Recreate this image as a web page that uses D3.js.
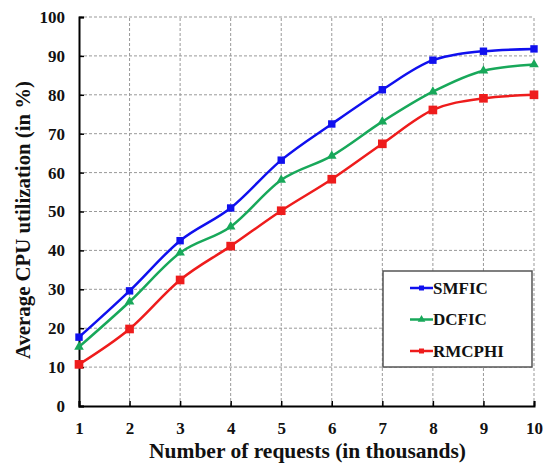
<!DOCTYPE html>
<html><head><meta charset="utf-8">
<script src="https://cdn.jsdelivr.net/npm/d3@7"></script>
<style>body{margin:0;background:#fff}svg{display:block}</style>
</head><body>
<script>
const xValues = [1,2,3,4,5,6,7,8,9,10];
const smfic  = [17.7,29.6,42.5,50.9,63.2,72.5,81.3,88.9,91.2,91.8];
const dcfic  = [15.2,26.8,39.4,46.1,58.1,64.3,73.1,80.8,86.2,87.8];
const rmcphi = [10.7,19.8,32.4,41.1,50.2,58.3,67.4,76.1,79.1,80.0];
const seriesNames = ["SMFIC","DCFIC","RMCPHI"];
const yTicks = [0,10,20,30,40,50,60,70,80,90,100];
const xLabel = "Number of requests (in thousands)";
const yLabel = "Average CPU utilization (in %)";

const W=543,H=465;
const m={l:79,r:9,t:17,b:59};
const svg=d3.select("body").append("svg").attr("width",W).attr("height",H);
const x=d3.scaleLinear().domain([1,10]).range([m.l,W-m.r]);
const y=d3.scaleLinear().domain([0,100]).range([H-m.b,m.t]);
const font="'Liberation Serif','Times New Roman',serif";

// grid
const g=svg.append("g");
g.selectAll(".hg").data(yTicks.filter(d=>d>0)).join("line")
 .attr("x1",m.l).attr("x2",x(10)).attr("y1",d=>y(d)).attr("y2",d=>y(d))
 .attr("stroke","#999").attr("stroke-dasharray","3,2").attr("stroke-width",1);
g.selectAll(".vg").data(xValues.filter(d=>d>1)).join("line")
 .attr("x1",d=>x(d)).attr("x2",d=>x(d)).attr("y1",y(0)).attr("y2",y(100))
 .attr("stroke","#999").attr("stroke-dasharray","3,2").attr("stroke-width",1);

// axes
const xa=svg.append("g").attr("transform",`translate(0,${y(0)})`)
 .call(d3.axisBottom(x).tickValues(xValues).tickSize(-5).tickPadding(14).tickFormat(d3.format("d")));
const ya=svg.append("g").attr("transform",`translate(${m.l},0)`)
 .call(d3.axisLeft(y).tickValues(yTicks).tickSize(-5).tickPadding(14));
[xa,ya].forEach(a=>{
 a.select(".domain").attr("stroke","#000").attr("stroke-width",2);
 a.selectAll(".tick line").attr("stroke","#000").attr("stroke-width",1.5);
 a.selectAll("text").attr("font-family",font).attr("font-weight","bold").attr("font-size",17).attr("fill","#111");
});
xa.selectAll(".tick text").attr("dy","0.85em");

// titles
svg.append("text").attr("x",(m.l+W-m.r)/2+1).attr("y",458).attr("text-anchor","middle")
 .attr("font-family",font).attr("font-weight","bold").attr("font-size",21.5).attr("fill","#111").text(xLabel);
svg.append("text").attr("transform",`translate(30,220) rotate(-90)`).attr("text-anchor","middle")
 .attr("textLength",278).attr("lengthAdjust","spacingAndGlyphs")
 .attr("font-family",font).attr("font-weight","bold").attr("font-size",22).attr("fill","#111").text(yLabel);

const series=[
 {name:seriesNames[0],vals:smfic,color:"#1010ee",sym:d3.symbolSquare,size:55},
 {name:seriesNames[1],vals:dcfic,color:"#18a85a",sym:d3.symbolTriangle,size:40},
 {name:seriesNames[2],vals:rmcphi,color:"#ee1c1c",sym:d3.symbolSquare,size:75}
];
const line=d3.line().x((d,i)=>x(xValues[i])).y(d=>y(d)).curve(d3.curveMonotoneX);
series.forEach(s=>{
 svg.append("path").datum(s.vals).attr("d",line).attr("fill","none").attr("stroke",s.color).attr("stroke-width",2.5);
 svg.selectAll(null).data(s.vals).join("path")
  .attr("transform",(d,i)=>`translate(${x(xValues[i])},${y(d)})`)
  .attr("d",d3.symbol().type(s.sym).size(s.size)).attr("fill",s.color);
});

// legend
const lg=svg.append("g");
lg.append("rect").attr("x",383).attr("y",271).attr("width",149).attr("height",96)
 .attr("fill","#fff").attr("stroke","#555").attr("stroke-width",1.5);
series.forEach((s,i)=>{
 const yy=288+i*31.5;
 lg.append("line").attr("x1",410).attr("x2",433).attr("y1",yy).attr("y2",yy).attr("stroke",s.color).attr("stroke-width",2.5);
 lg.append("path").attr("transform",`translate(421.5,${yy})`).attr("d",d3.symbol().type(s.sym).size(25)).attr("fill",s.color);
 lg.append("text").attr("x",433).attr("y",yy).attr("dy","0.35em").attr("font-family",font).attr("font-weight","bold")
  .attr("font-size",17).attr("fill","#111").text(s.name);
});
</script>
</body></html>
